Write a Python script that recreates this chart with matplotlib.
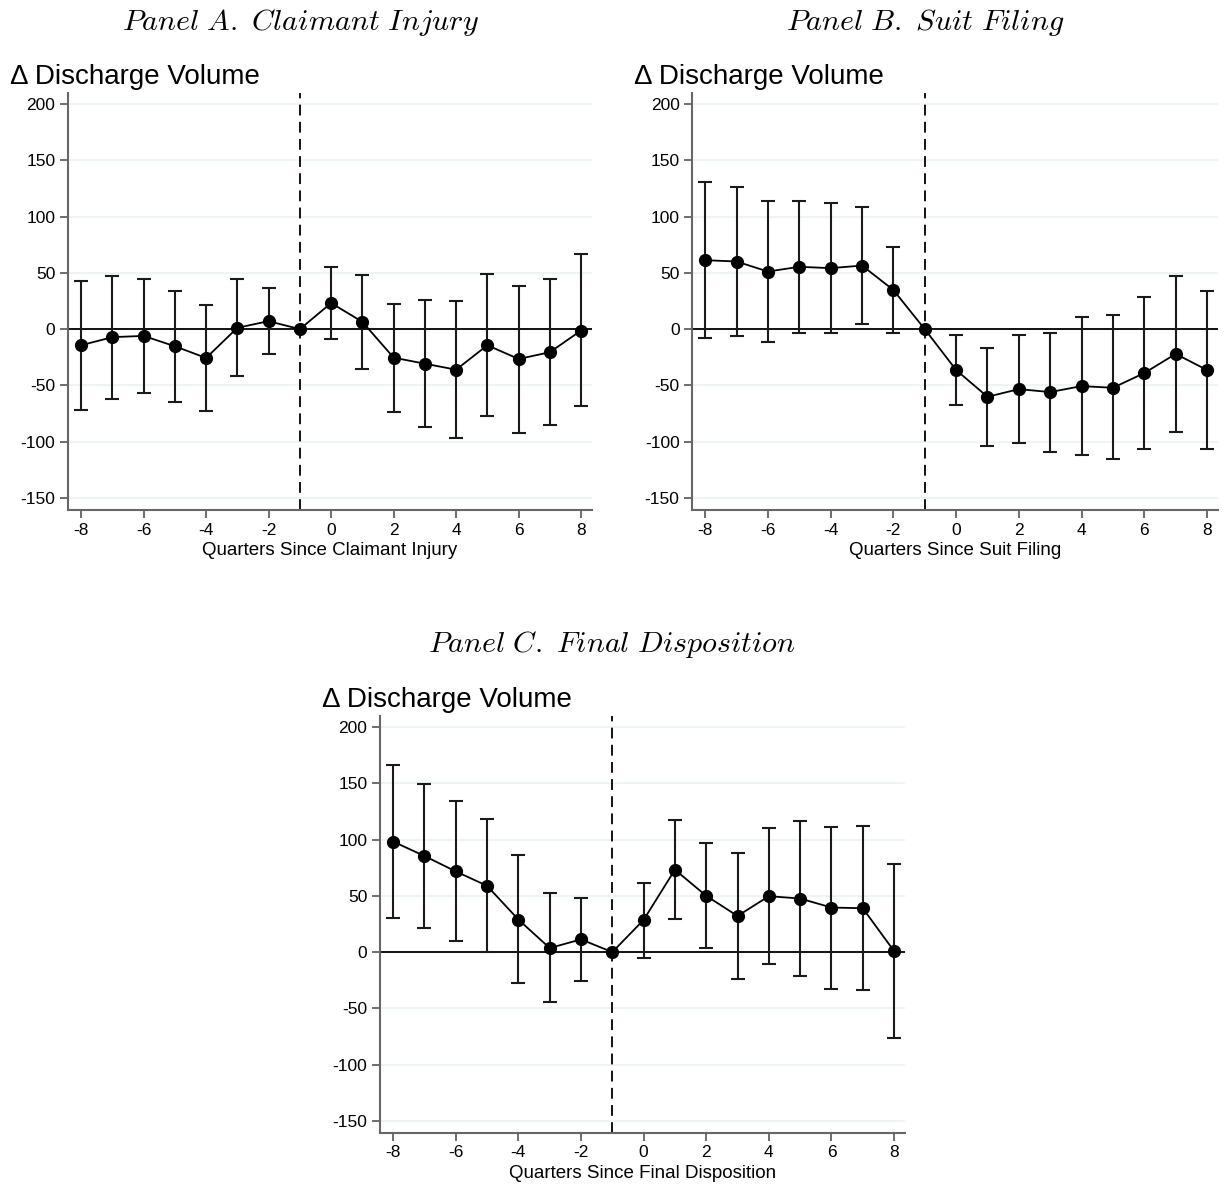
import numpy as np
import matplotlib
matplotlib.use("Agg")
from matplotlib import pyplot as plt

plt.rcParams['font.family'] = ['Liberation Sans', 'DejaVu Sans']
plt.rcParams['mathtext.fontset'] = 'cm'

quarters = np.arange(-8, 9)

# Panel A: claimant injury
est_a = [-14.3, -7.1, -6.0, -15.2, -25.6, 1.2, 7.1, 0, 23.2, 6.5, -25.3, -30.7, -36.0, -14.3, -26.5, -20.5, -1.2]
hi_a = [42.9, 47.6, 44.3, 33.6, 21.1, 44.6, 36.6, 0, 55.1, 48.5, 22.6, 25.6, 24.7, 48.8, 38.4, 44.9, 66.4]
lo_a = [-72.0, -61.9, -56.5, -64.3, -72.6, -42.0, -22.0, 0, -8.9, -35.4, -73.5, -86.6, -96.7, -77.1, -92.0, -85.4, -68.2]

# Panel B: suit filing
est_b = [61.3, 60.1, 51.2, 55.4, 54.2, 56.5, 34.8, 0, -36.3, -60.1, -53.3, -55.9, -50.6, -52.1, -39.0, -22.0, -36.3]
hi_b = [130.9, 126.2, 114.0, 114.3, 111.9, 108.3, 72.6, 0, -5.4, -16.7, -5.4, -3.0, 11.0, 12.2, 28.9, 47.0, 34.2]
lo_b = [-8.3, -6.5, -11.6, -3.3, -3.6, 4.5, -3.3, 0, -67.6, -103.6, -100.9, -109.2, -111.6, -115.8, -106.8, -91.1, -106.5]

# Panel C: final disposition
est_c = [98.2, 85.4, 71.7, 58.9, 28.9, 3.6, 11.3, 0, 28.6, 73.2, 50.0, 32.1, 49.7, 47.6, 39.6, 39.0, 0.9]
hi_c = [165.8, 149.7, 134.2, 118.1, 86.0, 52.1, 48.2, 0, 61.6, 117.6, 97.0, 88.1, 110.7, 116.7, 111.6, 111.9, 78.3]
lo_c = [30.7, 21.4, 9.5, 0.0, -27.7, -44.6, -25.3, 0, -4.8, 29.2, 3.6, -23.8, -11.0, -20.8, -32.4, -33.6, -76.5]

titles = [r"$\mathit{Panel\ A.\ Claimant\ Injury}$",
          r"$\mathit{Panel\ B.\ Suit\ Filing}$",
          r"$\mathit{Panel\ C.\ Final\ Disposition}$"]
xlabels = ["Quarters Since Claimant Injury",
           "Quarters Since Suit Filing",
           "Quarters Since Final Disposition"]

yticks = [-150, -100, -50, 0, 50, 100, 150, 200]
xticks = [-8, -6, -4, -2, 0, 2, 4, 6, 8]


def event_plot(ax, est, lo, hi, xlabel):
    est = np.array(est)
    lo = np.array(lo)
    hi = np.array(hi)
    for y in yticks:
        ax.axhline(y, color='#eaf2f3', lw=1.2, zorder=0)
    ax.axhline(0, color='black', lw=1.3, zorder=1)
    ax.axvline(-1, color='black', lw=1.3, ls=(0, (6, 3.5)), zorder=1)
    # no interval at the reference quarter
    mask = quarters != -1
    ax.errorbar(quarters[mask], est[mask],
                yerr=[est[mask] - lo[mask], hi[mask] - est[mask]],
                fmt='none', ecolor='#1a1a1a', elinewidth=1.5, capsize=5, capthick=1.5, zorder=2)
    ax.plot(quarters, est, color='black', lw=1.3, marker='o', ms=8.5, zorder=3)
    ax.set_xlim(-8.42, 8.35)
    ax.set_ylim(-160.7, 209.8)
    ax.set_xticks(xticks)
    ax.set_yticks(yticks)
    ax.set_xticklabels([str(t) for t in xticks])
    ax.set_yticklabels([str(t) for t in yticks])
    ax.tick_params(direction='out', length=6, width=1.2, color='#555555', labelsize=12.5, pad=3)
    for s in ['top', 'right']:
        ax.spines[s].set_visible(False)
    for s in ['left', 'bottom']:
        ax.spines[s].set_color('#666666')
        ax.spines[s].set_linewidth(1.5)
    ax.set_xlabel(xlabel, fontsize=13.5, labelpad=3)
    ax.text(-0.11, 1.008, "\u0394 Discharge Volume", transform=ax.transAxes,
            fontsize=20, ha='left', va='bottom')


fig = plt.figure(figsize=(12.25, 11.85), dpi=100)
ax_a = fig.add_axes([0.0555, 0.5696, 0.4278, 0.3519])
ax_b = fig.add_axes([0.5649, 0.5696, 0.4294, 0.3519])
ax_c = fig.add_axes([0.3102, 0.0439, 0.4286, 0.3519])

event_plot(ax_a, est_a, lo_a, hi_a, xlabels[0])
event_plot(ax_b, est_b, lo_b, hi_b, xlabels[1])
event_plot(ax_c, est_c, lo_c, hi_c, xlabels[2])

fig.text(300 / 1225, 1 - 22 / 1185, titles[0], fontsize=21.6, ha='center', va='center')
fig.text(925 / 1225, 1 - 22 / 1185, titles[1], fontsize=21.6, ha='center', va='center')
fig.text(612 / 1225, 1 - 645 / 1185, titles[2], fontsize=21.6, ha='center', va='center')

fig.savefig("out.png", dpi=100)
